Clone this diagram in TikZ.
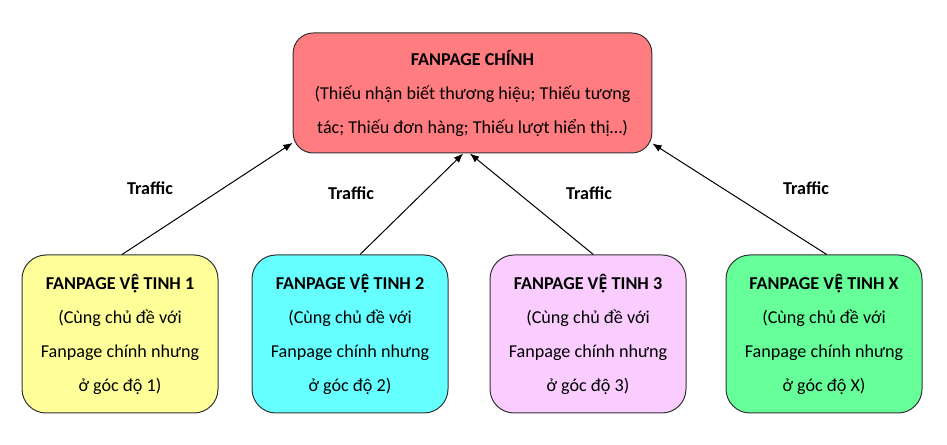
\documentclass[tikz,border=0pt]{standalone}
\usepackage{fontspec}
\setmainfont{Carlito}
\newfontfamily\vietE[Scale=0.9]{Open Sans}
\usepackage{tikz}
\usetikzlibrary{arrows.meta}

\definecolor{chinh}{HTML}{FF7C80}
\definecolor{vang}{HTML}{FFFF99}
\definecolor{xanh}{HTML}{66FFFF}
\definecolor{hong}{HTML}{FACCFF}
\definecolor{luc}{HTML}{66FF99}

\begin{document}
\begin{tikzpicture}[x=0.75pt,y=-0.75pt,
  every node/.style={font=\fontsize{13.6}{25.5}\selectfont},
  hop/.style={draw=black!80,line width=0.75pt,rounded corners=18pt,align=center,
    minimum width=147pt,minimum height=118.5pt,inner sep=0pt},
  luong/.style={-{Latex[length=7pt,width=5.5pt]},line width=0.75pt}]
\newcommand\vetinh[4]{
\node[hop,fill=#3] (#1) at (#2,334) {\textbf{FANPAGE V{\vietE Ệ} TINH #4}\\(Cùng chủ đề với\\Fanpage chính nhưng\\ở góc độ #4)};
}
\useasboundingbox (0,0) rectangle (947,445);
\node[hop,fill=chinh,rounded corners=15pt,minimum width=269pt,minimum height=90pt] (main) at (472.5,93)
  {\textbf{FANPAGE CHÍNH}\\(Thiếu nhận biết thương hiệu; Thiếu tương\\tác; Thiếu đơn hàng; Thiếu lượt hiển thị…)};
\vetinh{sat1}{120}{vang}{1}
\vetinh{sat2}{350}{xanh}{2}
\vetinh{sat3}{588}{hong}{3}
\vetinh{satx}{824}{luc}{X}
\draw[luong] ([xshift=1.5pt]sat1.north) -- ([yshift=8pt]main.south west);
\draw[luong] ([xshift=7.5pt]sat2.north) -- ([xshift=-7pt]main.south);
\draw[luong] ([xshift=4pt]sat3.north) -- ([xshift=-2pt]main.south);
\draw[luong] ([xshift=2pt]satx.north) -- ([yshift=7.5pt]main.south east);
\foreach \i/\x/\y in {1/150/188,2/351/193,3/589/193,4/806/188}
  \node (t\i) at (\x,\y) {\textbf{Traffic}};
\end{tikzpicture}
\end{document}
